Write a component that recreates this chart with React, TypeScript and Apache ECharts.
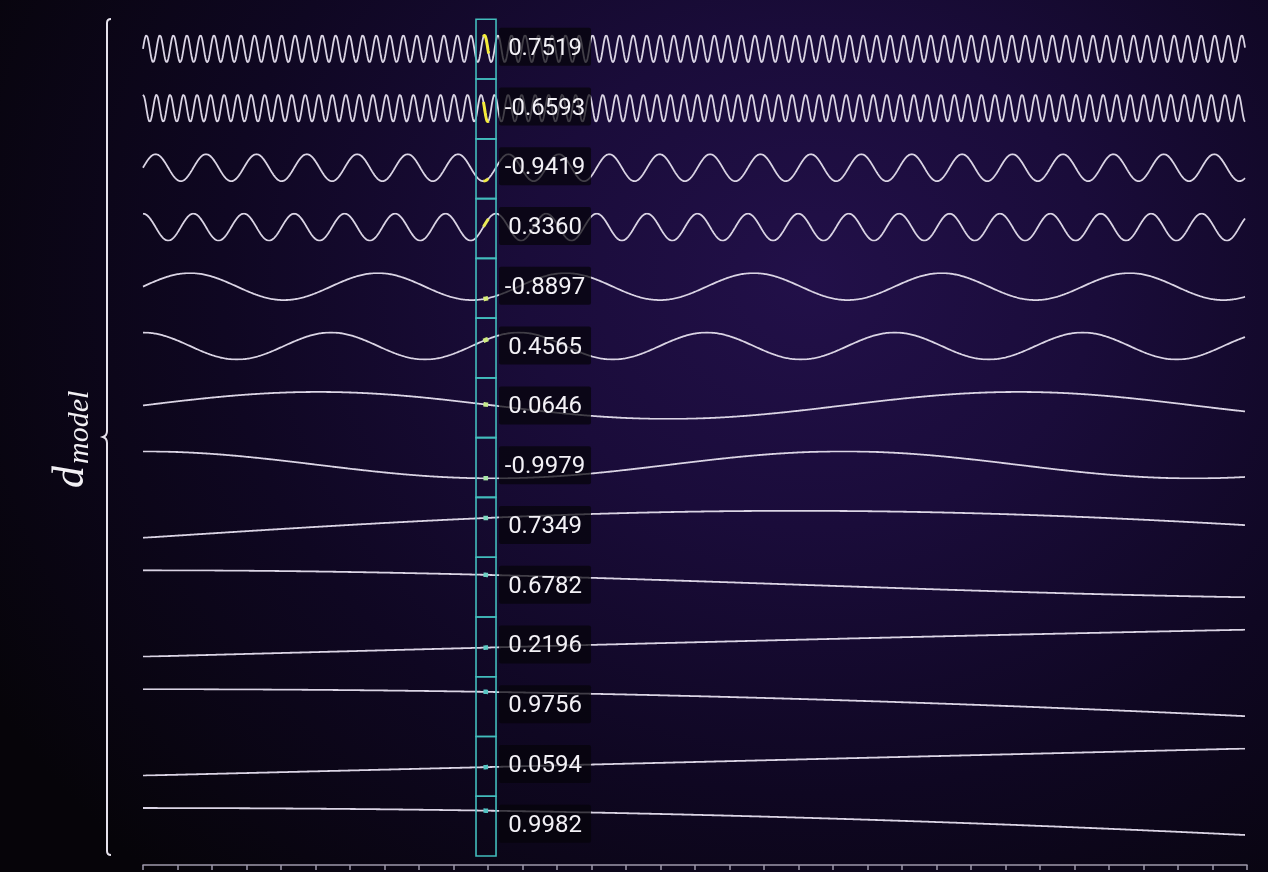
import * as echarts from "echarts";
import { useEffect, useRef } from "react";

// positional encoding rows shown in the picture (d_model = 14)
const positions = Array.from({ length: 2049 }, (_, i) => i * 0.25);
const windowOffsets = Array.from({ length: 41 }, (_, i) => -1.2 + i * 0.06);
const rowFrequencies = [
  1, 1, 0.26827, 0.26827, 0.071969, 0.071969, 0.019307, 0.019307, 0.0051795,
  0.0051795, 0.0013895, 0.0013895, 0.00037276, 0.00037276,
];
const rowKinds = [
  "sin", "cos", "sin", "cos", "sin", "cos", "sin",
  "cos", "sin", "cos", "sin", "cos", "sin", "cos",
];
const columnPosition = 159.37;
const columnValues = [
  0.7519, -0.6593, -0.9419, 0.336, -0.8897, 0.4565, 0.0646, -0.9979, 0.7349,
  0.6782, 0.2196, 0.9756, 0.0594, 0.9982,
];
const highlightColors = [
  "#f4ec3a", "#f4ec3a", "#efea46", "#e8ea56", "#d6ec78", "#cfec82", "#c6ea8c",
  "#aae6a8", "#7ed8c0", "#6ed2c4", "#5ecac4", "#58c6c4", "#54c4c2", "#52c2c2",
];

const plotLeft = 143;
const plotRight = 23;
const rowTop = 35.3;
const rowStep = 59.44;
const band = 27;
const cellTop = 19.3;
const cellBottom = 856;
const columnHalf = 4.65;

const BRACE =
  "M 111 19 C 108 19 107 20.5 107 23 L 107 431 C 107 434 106 436 103 437 C 106 438 107 440 107 443 L 107 851 C 107 853.5 108 855 111 855";
echarts.graphic.registerShape("brace", echarts.graphic.extendPath(BRACE, {}));

function rowValue(k: number, p: number) {
  const a = rowFrequencies[k] * p;
  return rowKinds[k] === "sin" ? Math.sin(a) : Math.cos(a);
}

export default function App() {
  const ref = useRef<HTMLDivElement | null>(null);

  useEffect(() => {
    if (!ref.current) return;
    const chart = echarts.init(ref.current, null, { renderer: "svg" });

    const grids: any[] = [];
    const xAxes: any[] = [];
    const yAxes: any[] = [];
    const series: any[] = [];

    rowFrequencies.forEach((_, k) => {
      grids.push({ left: plotLeft, right: plotRight, top: rowTop + rowStep * k, height: band });
      xAxes.push({ gridIndex: k, type: "value", min: 0, max: 512, show: false });
      yAxes.push({
        gridIndex: k,
        type: "value",
        scale: true,
        min: (v: any) => v.min,
        max: (v: any) => v.max,
        show: false,
      });
      series.push({
        type: "line",
        xAxisIndex: k,
        yAxisIndex: k,
        data: positions.map((p) => [p, rowValue(k, p)]),
        showSymbol: false,
        silent: true,
        z: 2,
        lineStyle: { color: "#dad4e4", width: 1.8 },
      });
      series.push({
        type: "line",
        xAxisIndex: k,
        yAxisIndex: k,
        data: windowOffsets.map((d) => [columnPosition + d, rowValue(k, columnPosition + d)]),
        showSymbol: false,
        silent: true,
        z: 6,
        lineStyle: { color: highlightColors[k], width: k < 4 ? 3 : 4.5, cap: "butt" },
      });
    });

    // overlay for the highlighted column and its value labels
    const ov = rowFrequencies.length;
    grids.push({ left: plotLeft, right: plotRight, top: cellTop, height: cellBottom - cellTop });
    xAxes.push({ gridIndex: ov, type: "value", min: 0, max: 512, show: false });
    yAxes.push({ gridIndex: ov, type: "value", min: 0, max: 14, inverse: true, show: false });

    series.push({
      type: "custom",
      xAxisIndex: ov,
      yAxisIndex: ov,
      silent: true,
      z: 4,
      data: columnValues.map((_, k) => [columnPosition, k]),
      renderItem: (_params: any, api: any) => {
        const p0 = api.coord([api.value(0) - columnHalf, api.value(1)]);
        const p1 = api.coord([api.value(0) + columnHalf, api.value(1) + 1]);
        return {
          type: "rect",
          shape: { x: p0[0], y: p0[1], width: p1[0] - p0[0], height: p1[1] - p0[1] },
          style: { fill: "none", stroke: "#42bcbc", lineWidth: 1.6 },
        };
      },
    });

    series.push({
      type: "custom",
      xAxisIndex: ov,
      yAxisIndex: ov,
      silent: true,
      z: 8,
      data: columnValues.map((v, k) => [columnPosition, k + 0.46, v]),
      renderItem: (_params: any, api: any) => {
        const c = api.coord([api.value(0), api.value(1)]);
        const x = c[0] + 59;
        return {
          type: "group",
          children: [
            {
              type: "rect",
              shape: { x: x - 46, y: c[1] - 19, width: 92, height: 38, r: 2 },
              style: { fill: "rgba(6,4,10,0.72)" },
            },
            {
              type: "text",
              style: {
                text: Number(api.value(2)).toFixed(4),
                x,
                y: c[1],
                align: "center",
                verticalAlign: "middle",
                fontFamily: "Roboto",
                fontSize: 24,
                fill: "#f3f1f6",
              },
            },
          ],
        };
      },
    });

    // bottom position axis
    const ax = ov + 1;
    grids.push({ left: plotLeft, right: plotRight - 2, top: 864, height: 1 });
    xAxes.push({
      gridIndex: ax,
      type: "value",
      min: 0,
      max: 512,
      interval: 16,
      axisLine: { lineStyle: { color: "#9e99ab", width: 1.5 } },
      axisTick: { show: true, length: 5, lineStyle: { color: "#9e99ab", width: 1.5 } },
      axisLabel: { show: false },
      splitLine: { show: false },
    });
    yAxes.push({ gridIndex: ax, type: "value", show: false });

    chart.setOption({
      animation: false,
      backgroundColor: "transparent",
      grid: grids,
      xAxis: xAxes,
      yAxis: yAxes,
      series,
      graphic: {
        elements: [
          {
            type: "brace",
            x: 0,
            y: 0,
            shape: {},
            style: { stroke: "#e6e2ec", fill: "none", lineWidth: 2 },
          },
          {
            type: "group",
            x: 75,
            y: 438,
            rotation: Math.PI / 2,
            children: [
              {
                type: "text",
                x: -50,
                y: -7,
                style: {
                  text: "d",
                  fontFamily: "Liberation Serif",
                  fontStyle: "italic",
                  fontSize: 44,
                  fill: "#f2f0f4",
                  align: "left",
                  verticalAlign: "middle",
                },
              },
              {
                type: "text",
                x: -26,
                y: 2,
                style: {
                  text: "model",
                  fontFamily: "Liberation Serif",
                  fontStyle: "italic",
                  fontSize: 30,
                  fill: "#f2f0f4",
                  align: "left",
                  verticalAlign: "middle",
                },
              },
            ],
          },
        ],
      },
    });

    return () => {
      chart.dispose();
    };
  }, []);

  return (
    <div
      ref={ref}
      style={{
        position: "fixed",
        left: 0,
        top: 0,
        width: 1268,
        height: 872,
        background:
          "radial-gradient(ellipse 75% 95% at 64% 32%, #221049 0%, #1a0c3a 30%, #0f0722 62%, #060409 100%)",
      }}
    />
  );
}
